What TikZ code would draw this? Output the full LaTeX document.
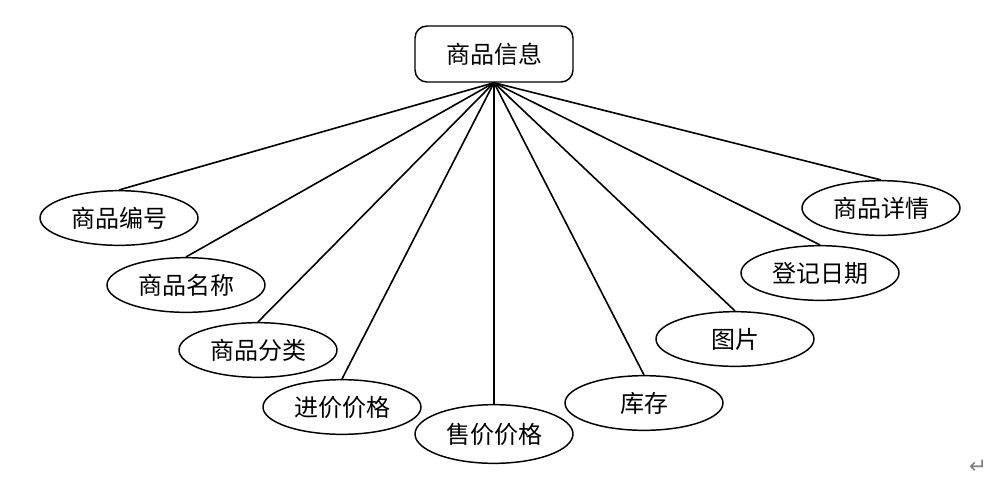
\documentclass[tikz,border=0pt]{standalone}
\usepackage{fontspec}
\newfontfamily\cjk{Noto Sans CJK SC}
\newfontfamily\symfont{DejaVu Sans}
\usetikzlibrary{shapes.geometric, positioning}

\begin{document}
\begin{tikzpicture}[
  x=0.75pt, y=-0.75pt,
  entbox/.style={draw, line width=1.1pt, rounded corners=9pt, minimum width=118.5pt, minimum height=42pt, inner sep=0pt, font=\cjk\fontsize{18}{22}\selectfont},
  attrell/.style={draw, ellipse, line width=1.1pt, minimum width=118.5pt, minimum height=41pt, inner sep=0pt, font=\cjk\fontsize{18}{22}\selectfont},
  link/.style={line width=1.2pt}
]
  \useasboundingbox (0,0) rectangle (1004,494);

  % The entity
  \node[entbox] (goods) at (494, 54) {商品信息};

  % Its attributes
  \node[attrell] (gid) at (119, 218) {商品编号};
  \node[attrell] (gname) at (186, 285) {商品名称};
  \node[attrell] (gcat) at (258, 350) {商品分类};
  \node[attrell] (gbuy) at (342, 407) {进价价格};
  \node[attrell, minimum height=44pt] (gsell) at (494, 434) {售价价格};
  \node[attrell] (gstock) at (644, 403) {库存};
  \node[attrell] (gpic) at (735, 339) {图片};
  \node[attrell] (gdate) at (820, 273) {登记日期};
  \node[attrell] (gdetail) at (881, 208) {商品详情};

  \foreach \a in {gid, gname, gcat, gbuy, gsell, gstock, gpic, gdate, gdetail}
    \draw[link] (goods.south) -- (\a.north);

  % paragraph mark
  \node[text=gray, font=\symfont\fontsize{16}{16}\selectfont] (mark) at (978, 467) {↵};
\end{tikzpicture}
\end{document}
